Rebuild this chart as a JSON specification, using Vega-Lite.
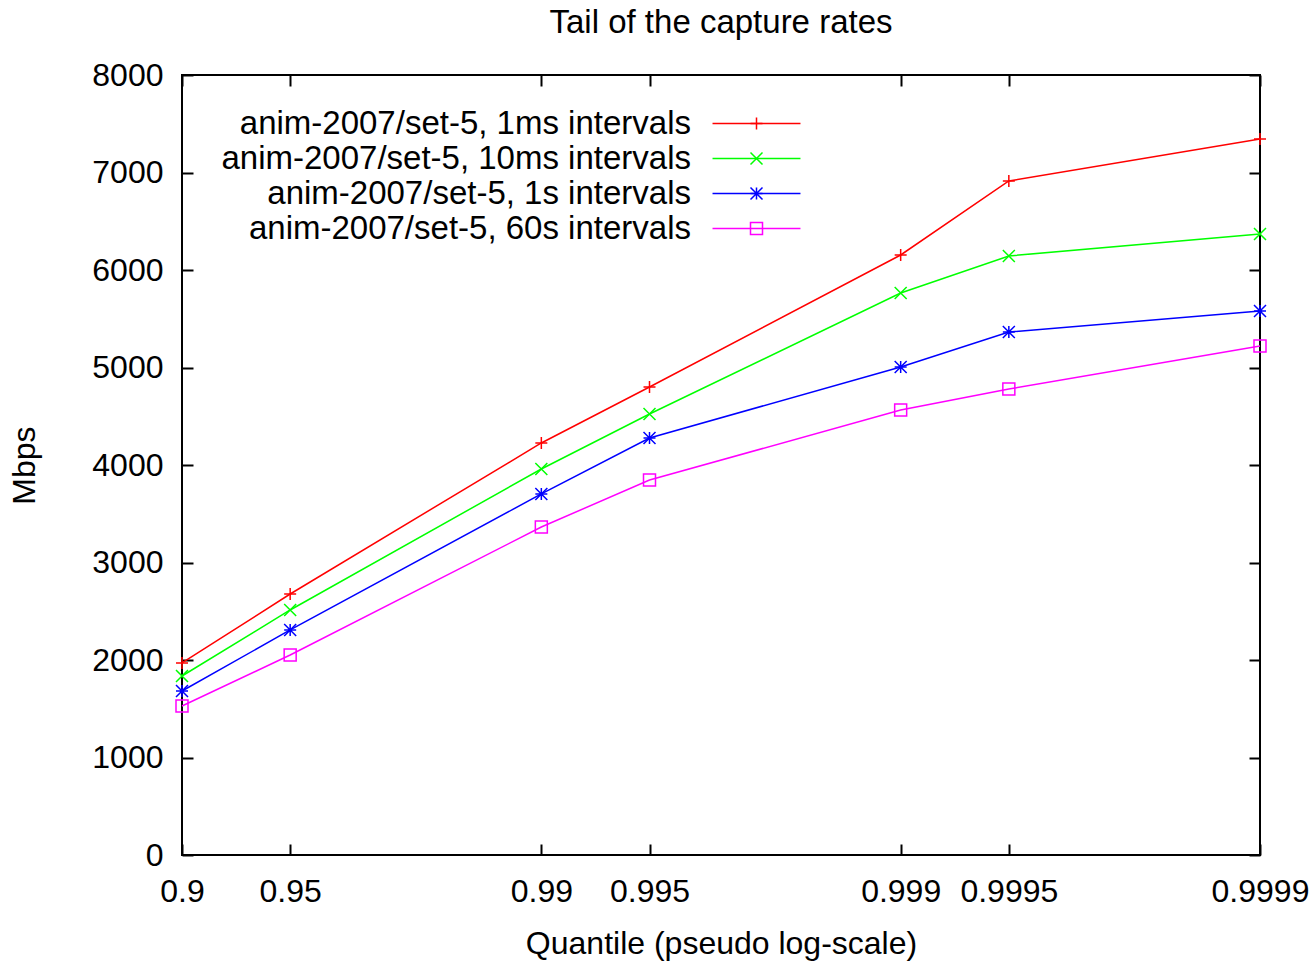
{
  "$schema": "https://vega.github.io/schema/vega-lite/v6.json",
  "width": 1078,
  "height": 780,
  "autosize": {"type": "none"},
  "padding": {"left": 182, "top": 75, "right": 53, "bottom": 108},
  "background": "white",
  "title": {"text": "Tail of the capture rates", "fontSize": 33, "font": "Liberation Sans", "fontWeight": "normal", "baseline": "alphabetic", "offset": -7, "anchor": "middle", "color": "black"},
  "config": {
    "view": {"stroke": "black", "strokeWidth": 2},
    "font": "Liberation Sans",
    "axis": {"grid": false, "domain": false, "tickColor": "black", "tickWidth": 2, "tickSize": -11, "labelFont": "Liberation Sans", "labelFontSize": 32, "labelColor": "black", "titleFont": "Liberation Sans", "titleFontSize": 32, "titleFontWeight": "normal", "titleColor": "black", "labelFlush": false},
    "legend": {"orient": "none", "legendX": 558, "legendY": 32, "title": null, "padding": 0, "labelFont": "Liberation Sans", "labelFontSize": 33, "labelAlign": "right", "labelOffset": -82, "labelLimit": 800, "symbolSize": 144, "symbolStrokeWidth": 1.5, "rowPadding": 1}
  },
  "data": {"values": [
    {"series": "anim-2007/set-5, 1ms intervals", "tail": 0.1, "mbps": 1970},
    {"series": "anim-2007/set-5, 1ms intervals", "tail": 0.05, "mbps": 2677},
    {"series": "anim-2007/set-5, 1ms intervals", "tail": 0.01, "mbps": 4226},
    {"series": "anim-2007/set-5, 1ms intervals", "tail": 0.005, "mbps": 4800},
    {"series": "anim-2007/set-5, 1ms intervals", "tail": 0.001, "mbps": 6154},
    {"series": "anim-2007/set-5, 1ms intervals", "tail": 0.0005, "mbps": 6913},
    {"series": "anim-2007/set-5, 1ms intervals", "tail": 0.0001, "mbps": 7344},
    {"series": "anim-2007/set-5, 10ms intervals", "tail": 0.1, "mbps": 1836},
    {"series": "anim-2007/set-5, 10ms intervals", "tail": 0.05, "mbps": 2513},
    {"series": "anim-2007/set-5, 10ms intervals", "tail": 0.01, "mbps": 3959},
    {"series": "anim-2007/set-5, 10ms intervals", "tail": 0.005, "mbps": 4523},
    {"series": "anim-2007/set-5, 10ms intervals", "tail": 0.001, "mbps": 5764},
    {"series": "anim-2007/set-5, 10ms intervals", "tail": 0.0005, "mbps": 6144},
    {"series": "anim-2007/set-5, 10ms intervals", "tail": 0.0001, "mbps": 6369},
    {"series": "anim-2007/set-5, 1s intervals", "tail": 0.1, "mbps": 1682},
    {"series": "anim-2007/set-5, 1s intervals", "tail": 0.05, "mbps": 2308},
    {"series": "anim-2007/set-5, 1s intervals", "tail": 0.01, "mbps": 3703},
    {"series": "anim-2007/set-5, 1s intervals", "tail": 0.005, "mbps": 4277},
    {"series": "anim-2007/set-5, 1s intervals", "tail": 0.001, "mbps": 5005},
    {"series": "anim-2007/set-5, 1s intervals", "tail": 0.0005, "mbps": 5364},
    {"series": "anim-2007/set-5, 1s intervals", "tail": 0.0001, "mbps": 5579},
    {"series": "anim-2007/set-5, 60s intervals", "tail": 0.1, "mbps": 1528},
    {"series": "anim-2007/set-5, 60s intervals", "tail": 0.05, "mbps": 2051},
    {"series": "anim-2007/set-5, 60s intervals", "tail": 0.01, "mbps": 3364},
    {"series": "anim-2007/set-5, 60s intervals", "tail": 0.005, "mbps": 3846},
    {"series": "anim-2007/set-5, 60s intervals", "tail": 0.001, "mbps": 4564},
    {"series": "anim-2007/set-5, 60s intervals", "tail": 0.0005, "mbps": 4779},
    {"series": "anim-2007/set-5, 60s intervals", "tail": 0.0001, "mbps": 5220}
  ]},
  "layer": [
    {
      "mark": {"type": "line", "strokeWidth": 1.5},
      "encoding": {
        "x": {"field": "tail", "type": "quantitative", "scale": {"type": "log", "domain": [0.0001, 0.1], "reverse": true},
              "axis": {"orient": "bottom", "values": [0.1, 0.05, 0.01, 0.005, 0.001, 0.0005, 0.0001], "labelExpr": "format(1 - datum.value, '.4~f')", "title": "Quantile (pseudo log-scale)", "labelPadding": 32, "titlePadding": 21}},
        "y": {"field": "mbps", "type": "quantitative", "scale": {"domain": [0, 8000]},
              "axis": {"orient": "left", "values": [0, 1000, 2000, 3000, 4000, 5000, 6000, 7000, 8000], "format": "d", "title": "Mbps", "labelPadding": 30, "titlePadding": 50}},
        "color": {"field": "series", "type": "nominal",
                  "scale": {"domain": ["anim-2007/set-5, 1ms intervals", "anim-2007/set-5, 10ms intervals", "anim-2007/set-5, 1s intervals", "anim-2007/set-5, 60s intervals"], "range": ["#ff0000", "#00ff00", "#0000ff", "#ff00ff"]},
                  "legend": {"symbolType": "M-7.33,0H7.33", "labelColor": "black"}}
      }
    },
    {
      "mark": {"type": "point", "filled": false, "size": 144, "strokeWidth": 1.5, "opacity": 1},
      "encoding": {
        "x": {"field": "tail", "type": "quantitative", "scale": {"type": "log", "domain": [0.0001, 0.1], "reverse": true},
              "axis": {"orient": "top", "values": [0.1, 0.05, 0.01, 0.005, 0.001, 0.0005, 0.0001], "labels": false, "title": null}},
        "y": {"field": "mbps", "type": "quantitative", "scale": {"domain": [0, 8000]},
              "axis": {"orient": "right", "values": [0, 1000, 2000, 3000, 4000, 5000, 6000, 7000, 8000], "labels": false, "title": null}},
        "color": {"field": "series", "type": "nominal", "legend": {"labelColor": "transparent"}},
        "shape": {"field": "series", "type": "nominal",
                  "scale": {"domain": ["anim-2007/set-5, 1ms intervals", "anim-2007/set-5, 10ms intervals", "anim-2007/set-5, 1s intervals", "anim-2007/set-5, 60s intervals"], "range": ["M0,-1V1M-1,0H1", "M-1,-1L1,1M-1,1L1,-1", "M0,-1V1M-1,0H1M-1,-1L1,1M-1,1L1,-1", "M-1,-1H1V1H-1Z"]},
                  "legend": {"labelColor": "transparent"}}
      }
    }
  ],
  "resolve": {"axis": {"x": "independent", "y": "independent"}, "legend": {"color": "independent", "shape": "independent"}}
}
